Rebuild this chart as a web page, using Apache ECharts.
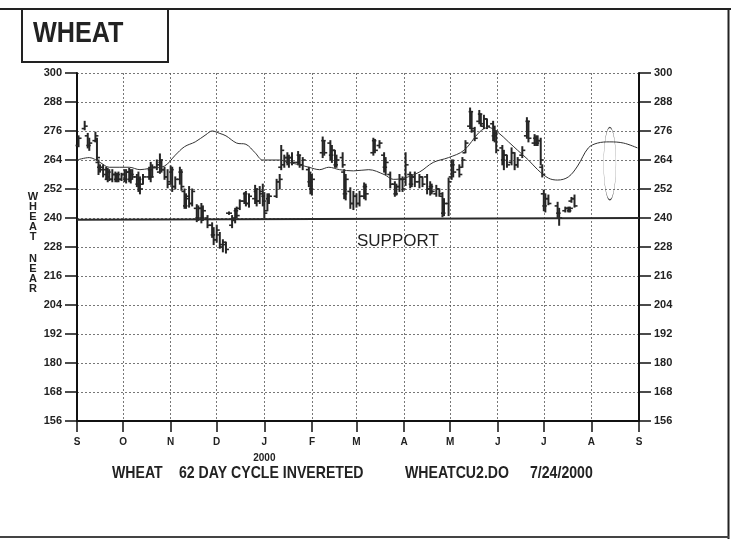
<!DOCTYPE html>
<html>
<head>
<meta charset="utf-8">
<script src="https://cdn.jsdelivr.net/npm/echarts@6/dist/echarts.min.js"></script>
<style>
html,body{margin:0;padding:0;background:#fff;}
#chart{width:731px;height:539px;}
</style>
</head>
<body>
<div id="chart"></div>
<script>
// daily price bars
var barDates = ['1999-09-02','1999-09-06','1999-09-08','1999-09-09','1999-09-13','1999-09-14','1999-09-15','1999-09-16','1999-09-18','1999-09-20',
  '1999-09-21','1999-09-22','1999-09-24','1999-09-26','1999-09-27','1999-09-28','1999-09-30','1999-10-02','1999-10-03','1999-10-05',
  '1999-10-06','1999-10-07','1999-10-10','1999-10-11','1999-10-12','1999-10-14','1999-10-18','1999-10-19','1999-10-20','1999-10-23',
  '1999-10-25','1999-10-26','1999-10-28','1999-10-30','1999-11-01','1999-11-02','1999-11-04','1999-11-07','1999-11-08','1999-11-10',
  '1999-11-11','1999-11-13','1999-11-15','1999-11-18','1999-11-19','1999-11-21','1999-11-22','1999-11-25','1999-11-28','1999-11-29',
  '1999-12-01','1999-12-03','1999-12-05','1999-12-07','1999-12-09','1999-12-11','1999-12-13','1999-12-14','1999-12-16','1999-12-19',
  '1999-12-20','1999-12-22','1999-12-26','1999-12-27','1999-12-29','1999-12-31','2000-01-01','2000-01-03','2000-01-04','2000-01-09',
  '2000-01-11','2000-01-12','2000-01-14','2000-01-16','2000-01-17','2000-01-19','2000-01-23','2000-01-24','2000-01-26','2000-01-30',
  '2000-01-31','2000-02-01','2000-02-08','2000-02-09','2000-02-13','2000-02-14','2000-02-16','2000-02-17','2000-02-21','2000-02-22',
  '2000-02-23','2000-02-26','2000-02-28','2000-03-01','2000-03-03','2000-03-06','2000-03-07','2000-03-12','2000-03-13','2000-03-16',
  '2000-03-19','2000-03-20','2000-03-23','2000-03-26','2000-03-27','2000-03-29','2000-03-31','2000-04-02','2000-04-05','2000-04-06',
  '2000-04-08','2000-04-11','2000-04-13','2000-04-16','2000-04-18','2000-04-19','2000-04-22','2000-04-24','2000-04-26','2000-04-27',
  '2000-04-30','2000-05-02','2000-05-03','2000-05-07','2000-05-09','2000-05-11','2000-05-14','2000-05-15','2000-05-17','2000-05-20',
  '2000-05-21','2000-05-23','2000-05-25','2000-05-29','2000-05-30','2000-05-31','2000-06-04','2000-06-05','2000-06-07','2000-06-10',
  '2000-06-12','2000-06-14','2000-06-17','2000-06-20','2000-06-21','2000-06-25','2000-06-26','2000-06-27','2000-06-29','2000-06-30',
  '2000-07-01','2000-07-02','2000-07-04','2000-07-10','2000-07-11','2000-07-15','2000-07-17','2000-07-18','2000-07-19','2000-07-21'];
var barHigh = [274,280,275,273,275.5,273,264,262,262,261, 260.5,260,260,259,258.5,259,258.5,260,260,260.5,
  260,260,258,259,257,258,261,263,262,264, 266.5,264,261,260,261.5,261,257,261,260,252,
  250,253,252,245.5,245,246,245,241,238,236, 237,234,231,230,242.5,241,244,244.5,247.5,250.5,
  251,250,253.5,252,253,254,250.5,250,250,256, 258,270,266,267,266,267,267.5,266,265,261,
  259,258,273.5,272,272,270,268,266,267,260, 258,252.5,251,250,251,254.5,254,273,272.5,272,
  267,265,259,255,254,258,257,267,259,258, 259,258,257,258,255,254,253.5,252,250.5,248,
  256.5,264,264,262,265,272,285.5,284,277.5,284.5, 283,282.5,281,280,278,275.5,270,268,266,269,
  267,265,269.5,281.5,280,274.5,274,274,273,262, 251.5,250,249.5,246.5,244,244.5,244.5,244.5,248.5,249.5];
var barLow = [269.5,276.5,269,268,271.5,264,258,259,257,256, 255,255.5,255,255,255,255,255.5,255,254.5,255,
  254.5,256,253,251,250,254,256,255,257,260, 258.5,259,256,252.5,254,251,252,254,251.5,244,
  244,244.5,245,238.5,239,238,239,236,232,229, 230,227.5,226,225.5,241.5,236,238,240,243.5,246,
  245,244.5,246,245,246,245,240,243,246,248.5, 252,260,261,262,261,262,262,261,260,253,
  250,249.5,265,266,264,263,261,261,261,248, 247.5,244,243.5,244.5,245,248,247.5,266,267,269,
  259,258,252.5,249,249.5,251,251,253.5,252.5,253, 253,252.5,253,250,249.5,250,249,249,240.5,241,
  241,256,257,257,261,267,277,275.5,272,279, 278,277,277,272,271.5,267,262,260,261,262,
  260,261,265,273,271.5,270,270,270,262,257, 243,242.5,245.5,240,237,242.5,242.5,242.5,246.5,244.5];
var barOpen = [270,277,274,270,272,272,263,261,261,260, 256,259,256,258,256,258,256,258,256,259,
  256,258,257,254,256,254,257,260,257,261, 259,263,260,257,255,259,253,256,259,251,
  245,248,246,244,240,244,240,240,237,233, 231,233,228,229,242,237,239,243,244,247,
  250,246,248,251,247,250,249,243,248,249, 255,261,262,265,263,265,263,266,262,260,
  255,252,267,272,271,266,268,262,265,259, 250,251,246,249,246,249,253,267,272,270,
  266,261,258,254,250,253,256,256,258,254, 257,255,257,257,252,253,250,252,249,242,
  246,257,262,260,261,267,278,284,276,280, 283,278,281,279,274,275,269,264,266,263,
  267,262,266,274,280,271,273,271,272,261, 250,245,248,245,242,243,244,243,247,248];
var barClose = [273,278,270,271,274,265,260,260,258,257, 259,256,258,256,258,256,258,256,259,256,
  258,257,254,256,252,257,260,257,261,262, 264,260,257,254,260,253,256,259,253,245,
  249,246,251,240,244,240,243,237,233,231, 235,229,230,227,242,240,243,241,247,250,
  246,249,252,247,251,247,242,249,249,255, 256,268,265,263,265,263,266,262,264,255,
  252,256,272,267,266,268,262,264,262,250, 256,246,249,246,249,253,250,272,268,271,
  261,263,254,250,253,256,252,262,254,257, 255,257,254,252,253,251,252,250,242,246,
  255,262,259,258,264,271,284,277,273,283, 279,281,278,274,276,268,264,266,262,267,
  262,264,268,280,273,273,271,272,264,258, 245,248,246,242,240,244,243,244,248,245];

// 62 day cycle, inverted
var cycleDates = ['1999-09-01','1999-09-09','1999-09-16','1999-09-22','1999-10-05','1999-10-12','1999-10-18','1999-10-28','1999-11-04','1999-11-10',
  '1999-11-17','1999-11-24','1999-11-28','1999-12-03','1999-12-07','1999-12-14','1999-12-20','1999-12-26','1999-12-31','2000-01-11',
  '2000-01-17','2000-01-24','2000-01-30','2000-02-06','2000-02-12','2000-02-19','2000-02-28','2000-03-09','2000-03-19','2000-03-25',
  '2000-04-01','2000-04-11','2000-04-20','2000-04-30','2000-05-10','2000-05-20','2000-05-26','2000-06-01','2000-06-08','2000-06-14',
  '2000-06-21','2000-06-27','2000-07-04','2000-07-10','2000-07-17','2000-07-23','2000-07-30','2000-08-05','2000-08-13','2000-08-22','2000-08-31'];
var cycleValues = [264,265,263,261,261,260,260.5,261.5,266,269.5,
  271.5,274.5,276,275,274,271,270.5,267,264,264,
  263,262,261,260,261,260,259.5,260,258,256,
  256.5,259,263,265,268,275.5,277.5,275.5,271.5,268,
  264,260,256.5,255.7,257,261.5,269,271,271.5,271,269];

var supportDates = ['1999-09-01','2000-09-01'];
var supportValues = [239.3,240];

// projected cycle low marker: date, mid value, half height, half width in days
var markerDate = '2000-08-13';
var markerMid = 262.5;
var markerHalf = 15;
var markerDays = 3.5;

var priceTicks = [156,300,12];
var monthLetters = 'JFMAMJJASOND';

var days = [];
(function(){
	var t = Date.UTC(1999, 8, 1), end = Date.UTC(2000, 8, 1);
	for (; t <= end; t += 86400000) days.push(new Date(t).toISOString().slice(0, 10));
})();

function isMonthStart(i, v){
	return String(v).slice(8) === '01';
}

var font = "'Liberation Sans', Arial, sans-serif";
var ink = '#222';

var bars = barDates.map(function(d, k){
	return [days.indexOf(d), barOpen[k], barHigh[k], barLow[k], barClose[k]];
});
var cycle = cycleDates.map(function(d, k){ return [days.indexOf(d), cycleValues[k]]; });
var support = supportDates.map(function(d, k){ return [days.indexOf(d), supportValues[k]]; });

function renderBar(params, api){
	var i = api.value(0);
	var op = api.coord([i, api.value(1)]);
	var hi = api.coord([i, api.value(2)]);
	var lo = api.coord([i, api.value(3)]);
	var cl = api.coord([i, api.value(4)]);
	var s = {stroke: '#262626', lineWidth: 2};
	var t = {stroke: '#262626', lineWidth: 1.6};
	return {type: 'group', children: [
		{type: 'line', shape: {x1: hi[0], y1: hi[1] - 0.5, x2: lo[0], y2: lo[1] + 0.5}, style: s},
		{type: 'line', shape: {x1: op[0] - 3, y1: op[1], x2: op[0], y2: op[1]}, style: t},
		{type: 'line', shape: {x1: cl[0], y1: cl[1], x2: cl[0] + 3, y2: cl[1]}, style: t}
	]};
}

function renderEllipse(params, api){
	var i = api.value(0);
	var c = api.coord([i, api.value(1)]);
	var top = api.coord([i, api.value(1) + api.value(2)]);
	var side = api.coord([i + api.value(3), api.value(1)]);
	var ry = c[1] - top[1];
	var rx = side[0] - c[0];
	return {
		type: 'circle', x: c[0], y: c[1], scaleX: rx / ry,
		shape: {cx: 0, cy: 0, r: ry},
		style: {stroke: '#444', fill: 'none', lineWidth: 1.1, strokeNoScale: true}
	};
}

function yAxisOf(pos, grid){
	return {
		type: 'value', position: pos,
		min: priceTicks[0], max: priceTicks[1], interval: priceTicks[2],
		axisLine: {show: true, lineStyle: {color: '#111', width: 2}},
		axisTick: {show: true, length: 12, lineStyle: {color: '#111', width: 1.5}},
		axisLabel: {margin: 15, fontFamily: font, fontSize: 11, fontWeight: 'bold', color: ink},
		splitLine: {show: grid, lineStyle: {type: [2, 2], color: '#555', width: 0.8}}
	};
}

var chart = echarts.init(document.getElementById('chart'), null, {renderer: 'canvas'});
chart.setOption({
	animation: false,
	backgroundColor: '#fff',
	grid: {left: 77, right: 92, top: 73, bottom: 118},
	xAxis: {
		type: 'category', data: days, boundaryGap: false,
		axisLine: {lineStyle: {color: '#111', width: 2}},
		axisTick: {interval: isMonthStart, length: 11, lineStyle: {color: '#111', width: 1.5}},
		axisLabel: {
			interval: isMonthStart, showMinLabel: true, showMaxLabel: true, margin: 16,
			fontFamily: font, fontSize: 10, fontWeight: 'bold', color: ink,
			formatter: function(v){
				var m = +v.slice(5, 7);
				var letter = monthLetters.charAt(m - 1);
				return v === '2000-01-01' ? letter + '\n{yr|2000}' : letter;
			},
			rich: {yr: {fontFamily: font, fontSize: 10, color: ink, padding: [6, 0, 0, 0]}}
		},
		splitLine: {show: true, interval: isMonthStart, lineStyle: {type: [2, 2], color: '#555', width: 0.8}}
	},
	yAxis: [yAxisOf('left', true), yAxisOf('right', false)],
	series: [
		{
			name: 'support', type: 'line', data: support, symbol: 'none',
			lineStyle: {color: '#2a2a2a', width: 2}, silent: true
		},
		{
			name: 'cycle', type: 'line', data: cycle, symbol: 'none', smooth: 0.35,
			lineStyle: {color: '#333', width: 1}, silent: true
		},
		{
			name: 'wheat', type: 'custom', data: bars, renderItem: renderBar,
			encode: {x: 0, y: [1, 2, 3, 4]}, silent: true
		},
		{
			name: 'marker', type: 'custom', data: [[days.indexOf(markerDate), markerMid, markerHalf, markerDays]],
			renderItem: renderEllipse, encode: {x: 0, y: 1}, silent: true
		}
	],
	graphic: [
		{type: 'line', shape: {x1: 0, y1: 9, x2: 731, y2: 9}, style: {stroke: ink, lineWidth: 2}},
		{type: 'line', shape: {x1: 728.5, y1: 9, x2: 728.5, y2: 539}, style: {stroke: ink, lineWidth: 2}},
		{type: 'line', shape: {x1: 0, y1: 537, x2: 729, y2: 537}, style: {stroke: '#444', lineWidth: 2}},
		{type: 'rect', shape: {x: 22, y: 9, width: 146, height: 53}, style: {fill: '#fff', stroke: ink, lineWidth: 2}},
		{type: 'text', x: 33, y: 34, scaleX: 0.84, style: {text: 'WHEAT', font: 'bold 30px ' + font, fill: ink, textVerticalAlign: 'middle'}},
		{type: 'text', x: 33, y: 192, style: {text: 'W\nH\nE\nA\nT', font: 'bold 11px ' + font, fill: ink, textAlign: 'center', lineHeight: 10}},
		{type: 'text', x: 33, y: 254, style: {text: 'N\nE\nA\nR', font: 'bold 11px ' + font, fill: ink, textAlign: 'center', lineHeight: 10}},
		{type: 'text', x: 357, y: 241, style: {text: 'SUPPORT', font: '17px ' + font, fill: ink, textVerticalAlign: 'middle'}},
		{type: 'text', x: 112, y: 473, scaleX: 0.83, style: {text: 'WHEAT', font: 'bold 17px ' + font, fill: ink, textVerticalAlign: 'middle'}},
		{type: 'text', x: 179, y: 473, scaleX: 0.83, style: {text: '62 DAY CYCLE INVERETED', font: 'bold 17px ' + font, fill: ink, textVerticalAlign: 'middle'}},
		{type: 'text', x: 405, y: 473, scaleX: 0.83, style: {text: 'WHEATCU2.DO', font: 'bold 17px ' + font, fill: ink, textVerticalAlign: 'middle'}},
		{type: 'text', x: 530, y: 473, scaleX: 0.83, style: {text: '7/24/2000', font: 'bold 17px ' + font, fill: ink, textVerticalAlign: 'middle'}}
	]
});
</script>
</body>
</html>
